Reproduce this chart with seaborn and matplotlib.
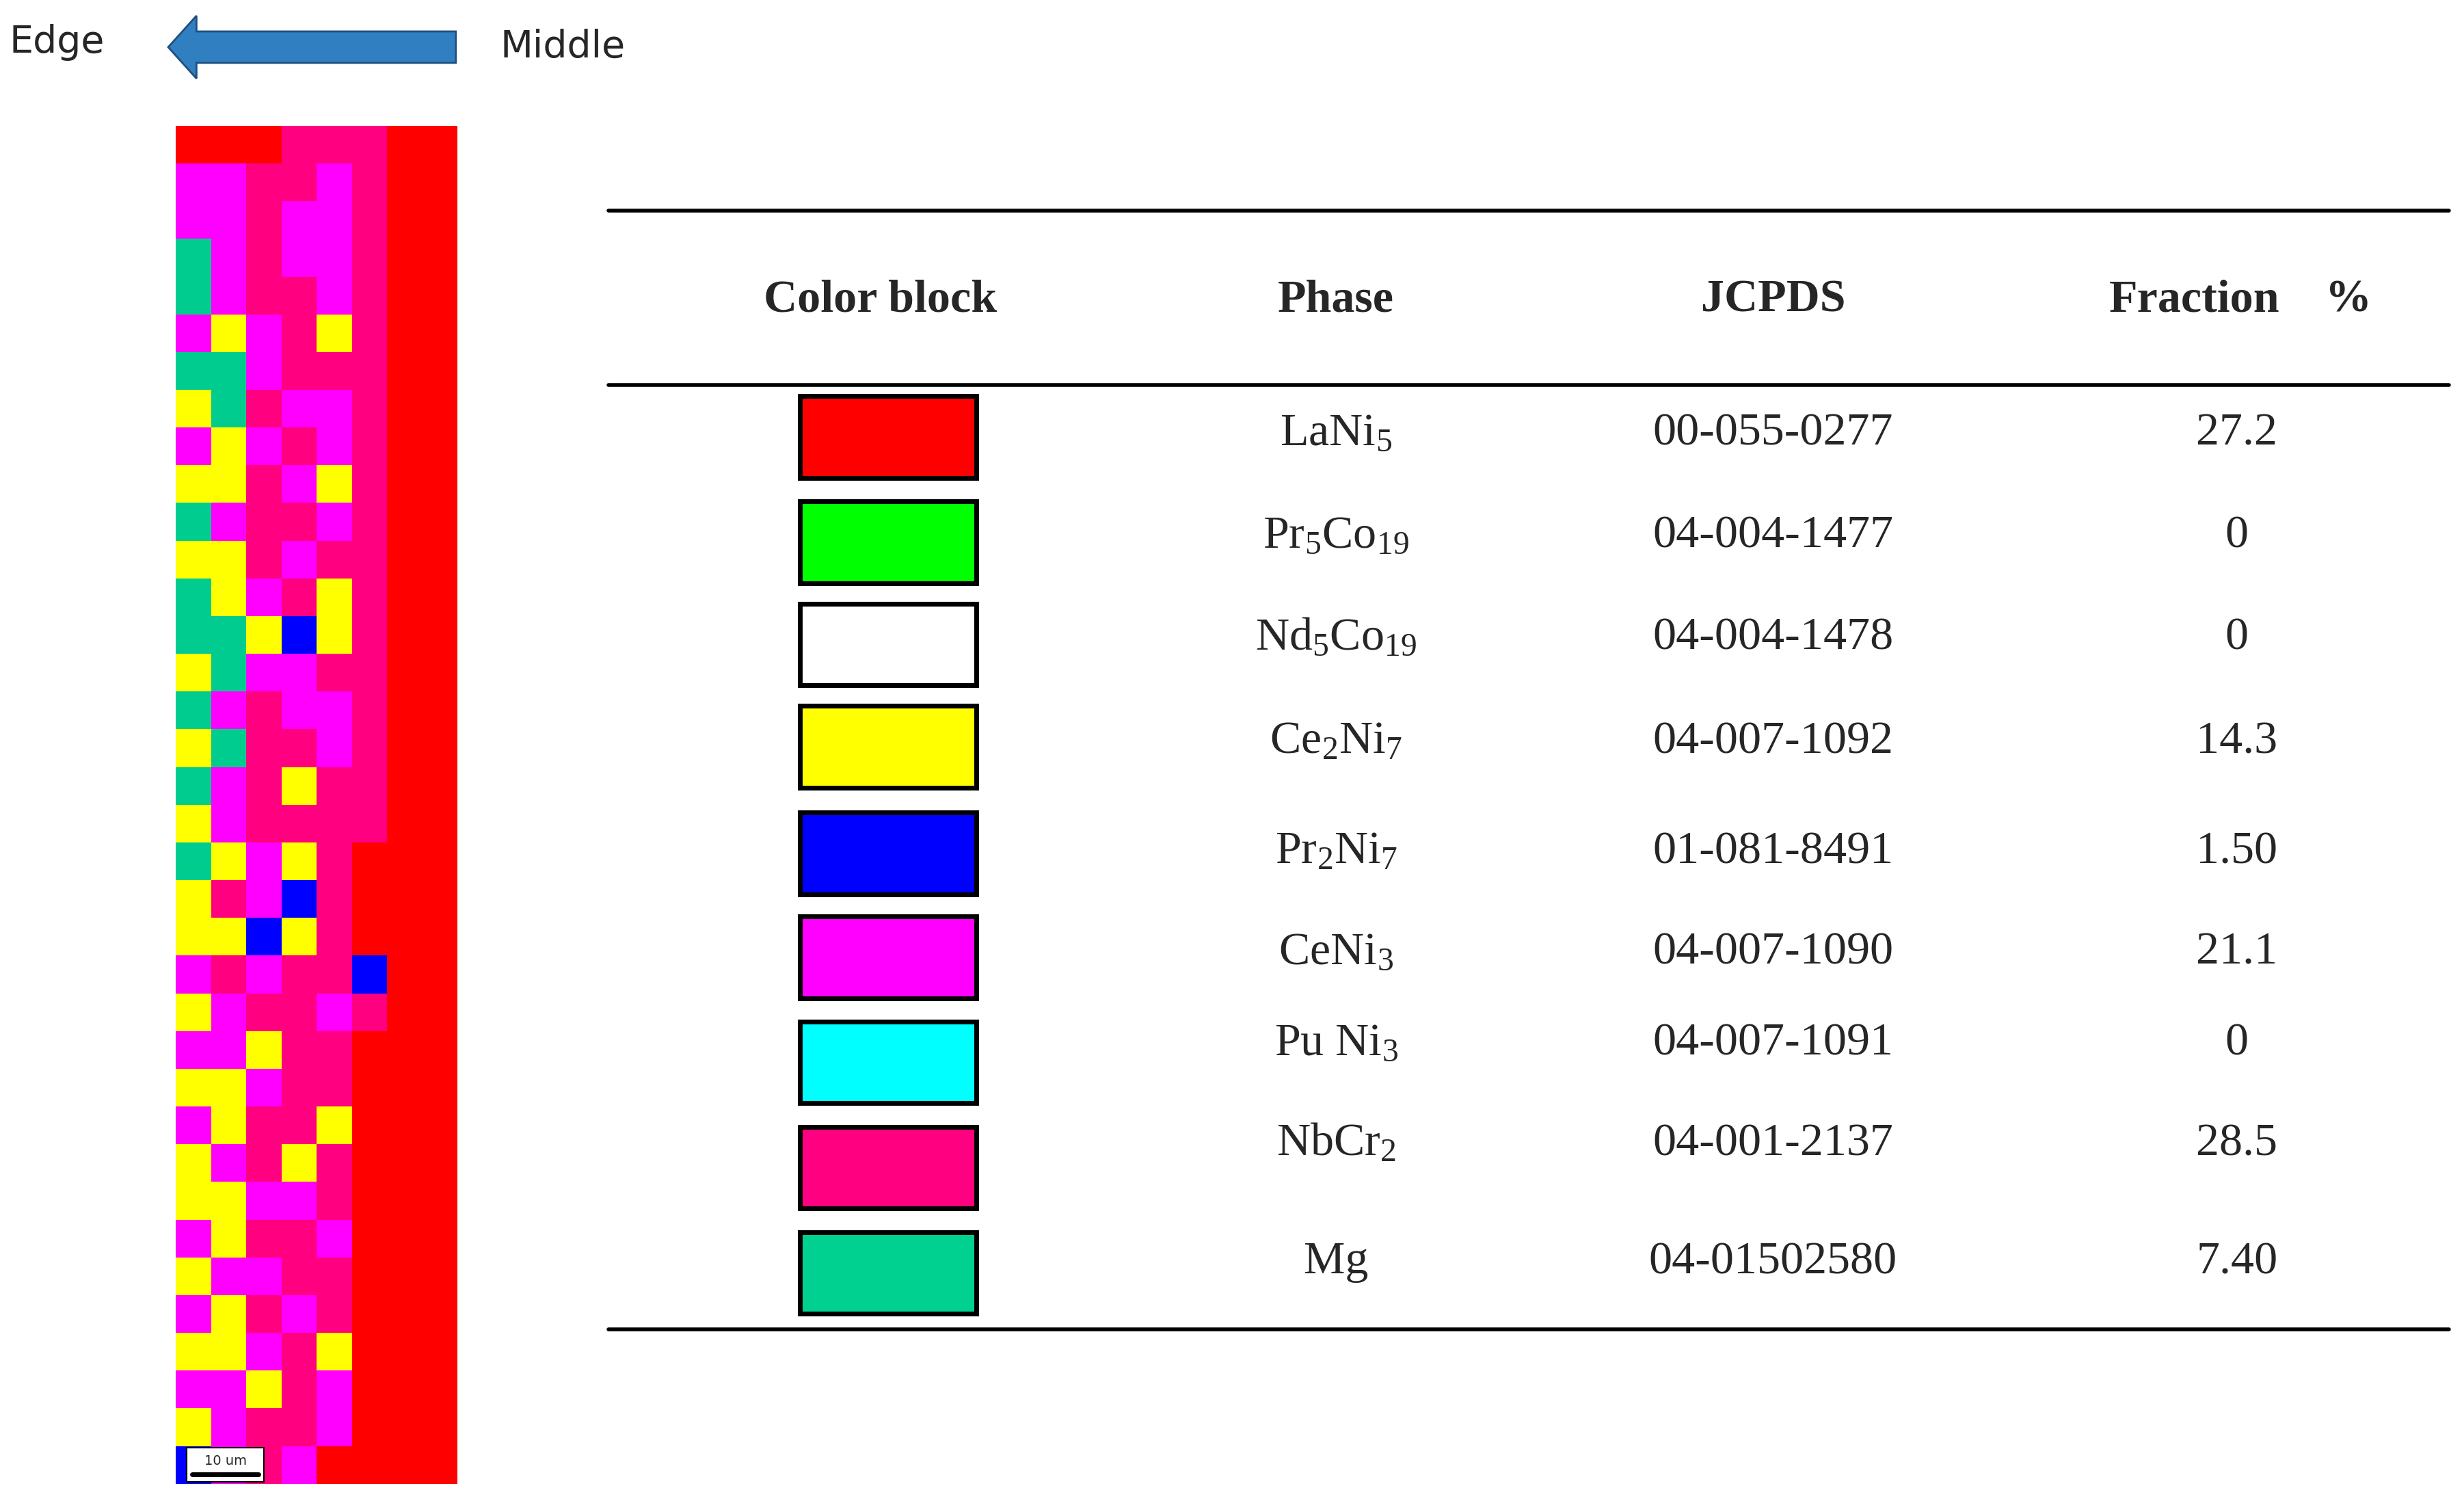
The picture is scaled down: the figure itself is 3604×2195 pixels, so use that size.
import numpy as np
import matplotlib
matplotlib.use("Agg")
import matplotlib.pyplot as plt
from matplotlib.colors import ListedColormap
from matplotlib.patches import Rectangle, FancyArrow
import seaborn as sns

sns.set_style("white")
plt.rcParams["font.family"] = ["Liberation Serif", "DejaVu Serif"]
plt.rcParams["mathtext.fontset"] = "custom"
plt.rcParams["mathtext.rm"] = "Liberation Serif"
plt.rcParams["mathtext.it"] = "Liberation Serif"

# table data
phases = [r"LaNi$_\mathrm{5}$", r"Pr$_\mathrm{5}$Co$_\mathrm{19}$", r"Nd$_\mathrm{5}$Co$_\mathrm{19}$",
          r"Ce$_\mathrm{2}$Ni$_\mathrm{7}$", r"Pr$_\mathrm{2}$Ni$_\mathrm{7}$", r"CeNi$_\mathrm{3}$",
          r"Pu Ni$_\mathrm{3}$", r"NbCr$_\mathrm{2}$", "Mg"]
jcpds = ["00-055-0277", "04-004-1477", "04-004-1478", "04-007-1092", "01-081-8491",
         "04-007-1090", "04-007-1091", "04-001-2137", "04-01502580"]
fractions = ["27.2", "0", "0", "14.3", "1.50", "21.1", "0", "28.5", "7.40"]
block_colors = ["#ff0000", "#00ff00", "#ffffff", "#ffff00", "#0000ff",
                "#ff00ff", "#00ffff", "#ff0080", "#00d090"]

# coarse phase map (rows top to bottom)
map_codes = {"R": 0, "Y": 1, "B": 2, "M": 3, "P": 4, "T": 5}
map_colors = ["#ff0000", "#ffff00", "#0000ff", "#ff00ff", "#ff0080", "#00cc90"]
map_rows = [
    "RRRPPPRR", "MMPPMPRR", "MMPMMPRR", "TMPMMPRR", "TMPPMPRR", "MYMPYPRR",
    "TTMPPPRR", "YTPMMPRR", "MYMPMPRR", "YYPMYPRR", "TMPPMPRR", "YYPMPPRR",
    "TYMPYPRR", "TTYBYPRR", "YTMMPPRR", "TMPMMPRR", "YTPPMPRR", "TMPYPPRR",
    "YMPPPPRR", "TYMYPRRR", "YPMBPRRR", "YYBYPRRR", "MPMPPBRR", "YMPPMPRR",
    "MMYPPRRR", "YYMPPRRR", "MYPPYRRR", "YMPYPRRR", "YYMMPRRR", "MYPPMRRR",
    "YMMPPRRR", "MYPMPRRR", "YYMPYRRR", "MMYPMRRR", "YMPPMRRR", "BMPMRRRR",
]
grid = np.array([[map_codes[c] for c in r] for r in map_rows])

W, H = 1568, 955
fig = plt.figure(figsize=(36.05, 21.95), dpi=100)
ax = fig.add_axes([0, 0, 1, 1])
ax.set_xlim(0, W)
ax.set_ylim(H, 0)
ax.axis("off")

# phase map
mx0, mx1, my0, my1 = 112, 291, 80, 944
max_ = fig.add_axes([mx0 / W, 1 - my1 / H, (mx1 - mx0) / W, (my1 - my0) / H])
sns.heatmap(grid, ax=max_, cmap=ListedColormap(map_colors), vmin=-0.5, vmax=5.5,
            cbar=False, xticklabels=False, yticklabels=False)
max_.add_patch(Rectangle((0.3, 35.05), 2.2, 0.9, facecolor="white", edgecolor="black", lw=1.5))
max_.plot([0.45, 2.35], [35.75, 35.75], color="black", lw=5)
max_.text(1.4, 35.4, "10 um", ha="center", va="center", fontsize=14, family="DejaVu Sans")

# arrow + labels
ax.add_patch(FancyArrow(290, 30, -165, 0, width=20, head_width=40, head_length=18,
                        length_includes_head=False, facecolor="#2f7fc1", edgecolor="#1f4f7f", lw=2))
ax.text(6, 27, "Edge", fontsize=40, va="center", ha="left", family="DejaVu Sans")
ax.text(318, 30, "Middle", fontsize=40, va="center", ha="left", family="DejaVu Sans")

# table
tx0, tx1 = 387, 1558
for y in [134, 245, 846]:
    ax.plot([tx0, tx1], [y, y], color="black", lw=4)
hy = 191
fs = 49
ax.text(560, hy, "Color block", fontsize=fs, fontweight="bold", ha="center", va="center")
ax.text(850, hy, "Phase", fontsize=fs, fontweight="bold", ha="center", va="center")
ax.text(1128, hy, "JCPDS", fontsize=fs, fontweight="bold", ha="center", va="center")
ax.text(1396, hy, "Fraction", fontsize=fs, fontweight="bold", ha="center", va="center")
ax.text(1494, hy, "%", fontsize=fs, fontweight="bold", ha="center", va="center")

row_y = [278, 345, 410, 475, 543, 609, 676, 743, 810]
text_y = [276, 341, 406, 472, 542, 606, 664, 728, 803]
for i in range(len(phases)):
    ax.add_patch(Rectangle((509, row_y[i] - 26), 112, 52, facecolor=block_colors[i],
                           edgecolor="black", lw=5))
    ax.text(850, text_y[i], phases[i], fontsize=fs, ha="center", va="center")
    ax.text(1128, text_y[i], jcpds[i], fontsize=fs, ha="center", va="center")
    ax.text(1423, text_y[i], fractions[i], fontsize=fs, ha="center", va="center")

fig.savefig("out.png", dpi=100, facecolor="white")
